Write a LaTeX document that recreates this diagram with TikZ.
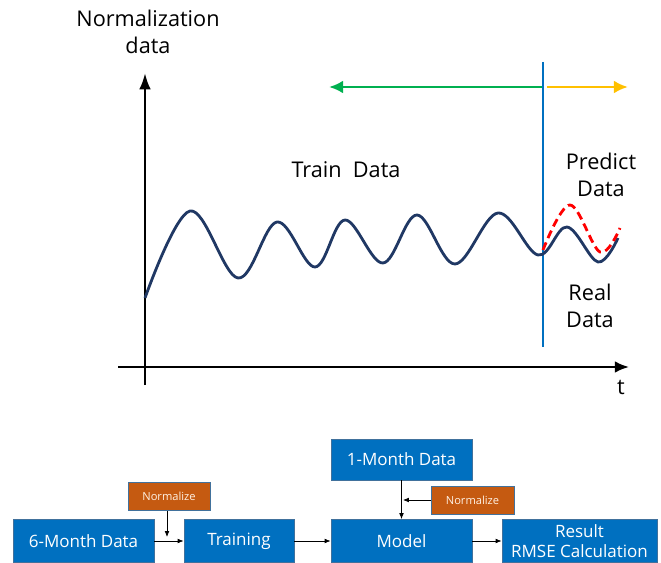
\documentclass[tikz,border=0pt]{standalone}
\usepackage{fontspec}
\setmainfont{Open Sans}
\usetikzlibrary{arrows.meta,positioning,calc}
\definecolor{boxblue}{HTML}{0070C0}
\definecolor{boxedge}{HTML}{41719C}
\definecolor{normorange}{HTML}{C55A11}
\definecolor{navy}{HTML}{203864}
\definecolor{green}{HTML}{00B050}
\definecolor{yellow}{HTML}{FFC000}
\begin{document}
\begin{tikzpicture}[x=0.03cm,y=-0.03cm,>=Latex,
  every node/.style={font=\fontsize{18.5}{23.5}\selectfont,align=center,inner sep=0pt},
  flowbox/.style={draw=boxedge,fill=boxblue,text=white,line width=0.8pt,
    font=\fontsize{14.5}{17}\selectfont,minimum height=1.29cm},
  normbox/.style={draw=boxedge,fill=normorange,text=white!90!orange,line width=0.8pt,
    font=\fontsize{9.5}{11}\selectfont,minimum height=0.86cm},
  link/.style={->,line width=0.6pt,>={Latex[length=5pt,width=4pt]}}]
  \useasboundingbox (0,0) rectangle (661,563);
  % axes
  \draw[line width=2.2pt,-{Latex[length=14pt,width=10pt]}] (145,385)--(145,73);
  \draw[line width=2.2pt,-{Latex[length=12pt,width=10pt]}] (118,367)--(629,367);
  \node (ylab) at (148,32) {Normalization\\data};
  \node (tlab) at (621,387) {t};
  % split line and ranges
  \draw[boxblue,line width=2.4pt] (543,62)--(543,347);
  \draw[green,line width=2.4pt,-{Latex[length=12pt,width=11pt]}] (542,87)--(329,87);
  \draw[yellow,line width=2.4pt,-{Latex[length=12pt,width=11pt]}] (547,87)--(628,87);
  \node (train) at (346,170) {Train\ \ Data};
  \node (pred) at (601,175) {Predict\\Data};
  \node (real) at (590,306) {Real\\Data};
  % signal
  \draw[navy,line width=2.4pt] plot[smooth,tension=0.6] coordinates {
    (145,298) (190,211) (238,278) (277,222) (315,267) (345,220) (383,263)
    (417,215) (455,264) (498,213) (538,255) (567,227) (598,262) (618,238)};
  \draw[red,line width=2.4pt,dash pattern=on 7pt off 4pt] plot[smooth,tension=0.6]
    coordinates {(543,250) (570,205) (600,252) (620,228)};
  % flow
  \node[flowbox,minimum width=4.23cm] (six) at (83.5,541) {6-Month Data};
  \node[flowbox,minimum width=3.3cm] (fit) at (239,541) {Training};
  \node[flowbox,minimum width=4.23cm] (model) at (401.5,541) {Model};
  \node[flowbox,minimum width=4.23cm,minimum height=1.23cm] (one) at (401.5,459.5) {1-Month Data};
  \node[flowbox,minimum width=4.65cm,font=\fontsize{14.5}{17}\selectfont] (res) at (579.5,541) {Result\\RMSE Calculation};
  \node[normbox,minimum width=2.46cm] (norma) at (169,496.5) {Normalize};
  \node[normbox,minimum width=2.49cm,minimum height=0.84cm] (normb) at (472.5,500) {Normalize};
  \coordinate (na) at (167,537);
  \coordinate (nb) at (403,500);
  \draw[link] (six)--(fit);
  \draw[link] (fit)--(model);
  \draw[link] (model)--(res);
  \draw[link] (one)--(model);
  \draw[link] (norma.south -| na)--(na);
  \draw[link] (normb)--(nb);
\end{tikzpicture}
\end{document}
